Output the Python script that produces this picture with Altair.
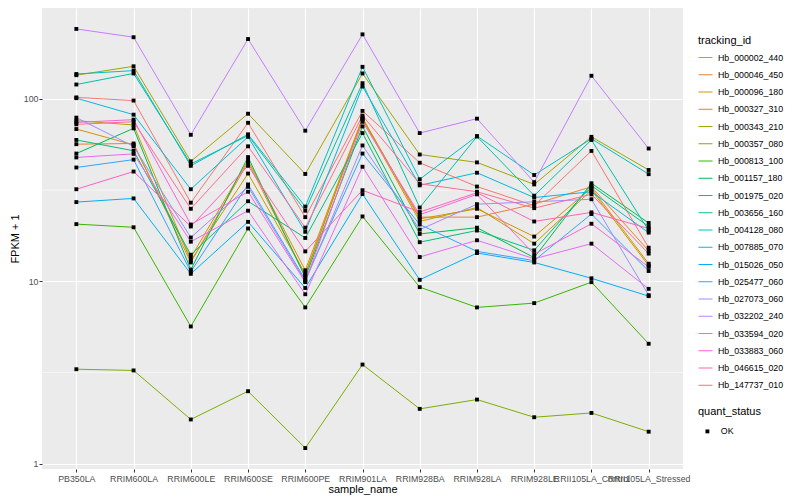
import altair as alt
import pandas as pd

samples = ["PB350LA", "RRIM600LA", "RRIM600LE", "RRIM600SE", "RRIM600PE", "RRIM901LA",
           "RRIM928BA", "RRIM928LA", "RRIM928LE", "RRII105LA_Control", "RRII105LA_Stressed"]

tracking_ids = ["Hb_000002_440", "Hb_000046_450", "Hb_000096_180", "Hb_000327_310", "Hb_000343_210",
                "Hb_000357_080", "Hb_000813_100", "Hb_001157_180", "Hb_001975_020", "Hb_003656_160",
                "Hb_004128_080", "Hb_007885_070", "Hb_015026_050", "Hb_025477_060", "Hb_027073_060",
                "Hb_032202_240", "Hb_033594_020", "Hb_033883_060", "Hb_046615_020", "Hb_147737_010"]

colors = ["#F8766D", "#EA8331", "#D89000", "#C09B00", "#A3A500", "#7CAE00", "#39B600", "#00BB4E",
          "#00BF7D", "#00C1A3", "#00BFC4", "#00BAE0", "#00B0F6", "#35A2FF", "#9590FF", "#C77CFF",
          "#E76BF3", "#FA62DB", "#FF62BC", "#FF6C91"]

v_000002_440 = [102, 98, 27, 74, 22.5, 86, 44.7, 33.1, 26, 51.9, 15.3]
v_000046_450 = [56.5, 57, 12.7, 45, 10.8, 78, 22.5, 22.5, 26.5, 33, 14.7]
v_000096_180 = [68.4, 56, 13.5, 46, 11.5, 79, 22, 25, 17.6, 32.5, 12.5]
v_000327_310 = [76, 72, 13, 39, 11, 77.5, 21.3, 25.4, 16.1, 31.6, 12.2]
v_000343_210 = [135, 151, 45.5, 83, 38.8, 138, 49.6, 44.9, 34, 62, 40.8]
v_000357_080 = [3.3, 3.25, 1.75, 2.5, 1.22, 3.5, 2.0, 2.25, 1.8, 1.9, 1.5]
v_000813_100 = [20.6, 19.8, 5.66, 19.5, 7.2, 22.7, 9.3, 7.2, 7.6, 9.9, 4.55]
v_001157_180 = [50.2, 69, 11.6, 48, 10.5, 70.7, 18.2, 19.7, 13.5, 34.5, 20.9]
v_001975_020 = [59.6, 52, 14, 27.5, 17.3, 65, 16.4, 19, 14.8, 33.5, 20]
v_003656_160 = [120, 138, 44, 63, 24.4, 122, 25.4, 62.2, 29.5, 59.6, 19]
v_004128_080 = [137, 143, 43, 64, 25.7, 150, 36.3, 62.6, 38.3, 60.5, 38.7]
v_007885_070 = [101, 82, 32, 62, 18.7, 117, 33.6, 39.4, 28.8, 31, 18.5]
v_015026_050 = [27.2, 28.5, 11, 21.2, 9.2, 30.1, 10.2, 14.3, 12.7, 10.4, 8.3]
v_025477_060 = [42.1, 46.5, 11.3, 34, 10.2, 50.2, 20.5, 14.6, 13, 23.4, 11.4]
v_027073_060 = [79, 55, 17.4, 33, 10, 55.6, 19.2, 26.5, 27.3, 28.2, 8.4]
v_032202_240 = [242, 218, 63.6, 213, 67, 226, 65, 78, 35, 134, 53.5]
v_033594_020 = [47.8, 50, 16.5, 24.4, 8.5, 42.5, 13.6, 16.8, 13.3, 16.1, 9.1]
v_033883_060 = [74.4, 77, 20.5, 31, 9.9, 75, 23.2, 30, 14.1, 20.7, 12]
v_046615_020 = [32, 40, 20, 43, 14.6, 31.6, 24, 30.6, 21.3, 23.9, 19.5]
v_147737_010 = [72.6, 75, 25, 55, 19.7, 81, 34.3, 31, 25.2, 30, 14.2]

series_values = [v_000002_440, v_000046_450, v_000096_180, v_000327_310, v_000343_210,
                 v_000357_080, v_000813_100, v_001157_180, v_001975_020, v_003656_160,
                 v_004128_080, v_007885_070, v_015026_050, v_025477_060, v_027073_060,
                 v_032202_240, v_033594_020, v_033883_060, v_046615_020, v_147737_010]

y_major = [1, 10, 100]
y_minor = [3.1623, 31.623]

rows = []
for tid, vals in zip(tracking_ids, series_values):
    for s, v in zip(samples, vals):
        rows.append({"sample_name": s, "tracking_id": tid, "FPKM": v, "quant_status": "OK"})
df = pd.DataFrame(rows)
minor_df = pd.DataFrame({"FPKM": y_minor})

FONT = "Liberation Sans"
yscale = alt.Scale(type="log", domain=[0.9365, 315.2], nice=False)

y_enc = alt.Y("FPKM:Q", scale=yscale, title="FPKM + 1",
              axis=alt.Axis(values=y_major, format="d", grid=True, gridColor="white", gridWidth=1.1,
                            domain=False, tickSize=3, tickColor="#333333", labelColor="#4D4D4D",
                            labelFontSize=8.8, labelPadding=1, titleFontSize=11, titleColor="black",
                            titleFontWeight="normal", titlePadding=3))
x_enc = alt.X("sample_name:N", sort=samples, title="sample_name",
              scale=alt.Scale(type="point", padding=0.6),
              axis=alt.Axis(labelAngle=0, labelOverlap=False, labelBound=False, labelFlush=False,
                            grid=True, gridColor="white", gridWidth=1.1, domain=False, tickSize=3,
                            tickColor="#333333", labelColor="#4D4D4D", labelFontSize=8.8,
                            labelPadding=2, titleFontSize=11, titleColor="black",
                            titleFontWeight="normal", titlePadding=1))

minor = alt.Chart(minor_df).mark_rule(color="white", strokeWidth=0.55).encode(
    y=alt.Y("FPKM:Q", scale=yscale, title="FPKM + 1"))

lines = alt.Chart(df).mark_line(strokeWidth=1).encode(
    x=x_enc, y=y_enc,
    color=alt.Color("tracking_id:N", scale=alt.Scale(domain=tracking_ids, range=colors),
                    legend=alt.Legend(orient="none", legendX=656, legendY=27, title="tracking_id",
                                      symbolType="stroke", symbolSize=196, symbolStrokeWidth=1,
                                      labelFontSize=8.8, titleFontSize=11, titleFontWeight="normal",
                                      titleColor="black", labelColor="black", rowPadding=4.25,
                                      titlePadding=4, labelOffset=5)),
    detail="tracking_id:N")

points = alt.Chart(df).mark_point(filled=True, color="black", opacity=1, size=15).encode(
    x=alt.X("sample_name:N", sort=samples),
    y=alt.Y("FPKM:Q", scale=yscale, title="FPKM + 1"),
    shape=alt.Shape("quant_status:N", scale=alt.Scale(domain=["OK"], range=["square"]),
                    legend=alt.Legend(orient="none", legendX=656, legendY=398, title="quant_status",
                                      labelFontSize=8.8, titleFontSize=11, titleFontWeight="normal",
                                      titleColor="black", labelColor="black", titlePadding=10,
                                      symbolSize=15, labelOffset=9, symbolOffset=5)))

chart = alt.layer(minor, lines, points).properties(
    width=641, height=461,
    autosize=alt.AutoSizeParams(type="none"),
    padding={"left": 34, "top": 0, "right": 109, "bottom": 27},
).configure(font=FONT).configure_view(fill="#EBEBEB", strokeWidth=0)

chart.save("out.html", embed_options={"renderer": "svg", "actions": False})
